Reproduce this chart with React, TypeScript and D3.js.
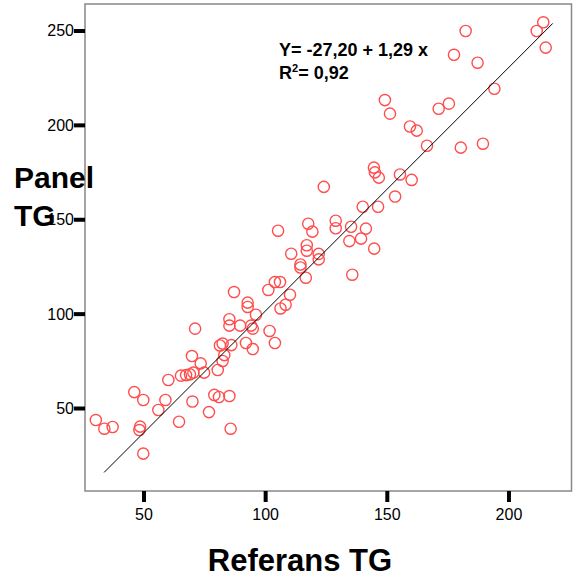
import React from 'react';
import * as d3 from 'd3';

// Referans TG (x) vs Panel TG (y)
const referansTG = [
  30.2, 33.7, 37.1, 46.0, 49.7, 48.4, 48.1, 49.7, 55.9, 58.8,
  60.0, 64.4, 65.2, 67.3, 68.9, 70.3, 69.9, 76.7, 78.9, 80.8,
  85.1, 85.6, 69.7, 73.3, 74.7, 80.3, 82.3, 83.0, 81.2, 82.3,
  85.9, 91.9, 94.7, 103.8, 71.0, 85.1, 85.1, 89.5, 94.0, 94.7,
  101.6, 87.0, 92.6, 92.6, 96.0, 101.1, 103.8, 105.9, 110.0, 108.2,
  106.1, 105.1, 110.5, 114.3, 114.3, 116.5, 116.9, 116.9, 121.8, 121.8,
  117.5, 119.2, 123.9, 128.8, 128.8, 135.1, 141.2, 134.4, 139.2, 144.6,
  135.6, 139.9, 146.2, 153.2, 144.5, 144.9, 146.5, 155.2, 160.0, 149.0,
  151.1, 159.3, 162.1, 166.3, 171.1, 175.3, 180.2, 189.3, 177.4, 182.2,
  187.1, 194.0, 211.4, 214.1, 215.1,
];
const panelTG = [
  43.9, 39.3, 40.2, 58.7, 54.5, 40.4, 38.6, 26.1, 49.2, 54.5,
  65.1, 43.0, 67.4, 67.7, 68.1, 69.0, 53.7, 48.1, 57.2, 56.1,
  56.6, 39.3, 77.8, 73.9, 69.0, 70.4, 75.2, 78.3, 83.4, 84.4,
  83.6, 84.7, 81.5, 84.7, 92.3, 97.3, 93.9, 93.9, 93.9, 92.3,
  91.1, 111.7, 106.1, 103.8, 99.7, 112.8, 117.0, 117.0, 110.3, 105.0,
  103.0, 144.2, 132.0, 126.3, 124.7, 119.3, 136.5, 133.6, 131.9, 129.0,
  147.9, 143.7, 167.4, 149.5, 145.5, 146.3, 145.3, 138.7, 140.0, 134.7,
  120.9, 156.9, 156.9, 162.3, 177.6, 175.1, 172.3, 174.0, 171.1, 213.4,
  206.2, 199.4, 197.2, 189.2, 208.8, 211.5, 188.2, 190.3, 237.4, 250.0,
  233.2, 219.4, 250.0, 254.6, 241.2,
];

const xTicks = [50, 100, 150, 200];
const yTicks = [50, 100, 150, 200, 250];

// fit line: Y = -27,20 + 1,29 x
const intercept = -27.2;
const slope = 1.29;
const fitRange = [33.6, 218];

const W = 576;
const H = 581;
const left = 85, right = 571.5, top = 4, bottom = 491;

export default function App() {
  const x = d3.scaleLinear().domain([25.75, 225.7]).range([left, right]);
  const y = d3.scaleLinear().domain([6.3, 264.3]).range([bottom, top]);
  const font = 'Arial, "Liberation Sans", Helvetica, sans-serif';

  const line = d3.line<number>()
    .x(d => x(d))
    .y(d => y(intercept + slope * d));

  return (
    <svg width={W} height={H} style={{ position: 'absolute', left: 0, top: 0, background: '#fff' }}
      fontFamily={font}>
      <rect x={left} y={top} width={right - left} height={bottom - top}
        fill="#fff" stroke="#888" strokeWidth={1.5} />

      {yTicks.map(t => (
        <g key={'y' + t}>
          <line x1={left - 11} x2={left} y1={y(t)} y2={y(t)} stroke="#000" strokeWidth={4} />
          <text x={left - 11} y={y(t) + 5.5} textAnchor="end" fontSize={16}>{t}</text>
        </g>
      ))}
      {xTicks.map(t => (
        <g key={'x' + t}>
          <line x1={x(t)} x2={x(t)} y1={bottom} y2={bottom + 11} stroke="#000" strokeWidth={4} />
          <text x={x(t)} y={520} textAnchor="middle" fontSize={16}>{t}</text>
        </g>
      ))}

      {referansTG.map((v, i) => (
        <circle key={i} cx={x(v)} cy={y(panelTG[i])} r={5.6}
          fill="none" stroke="#ff4d4d" strokeWidth={1.4} />
      ))}

      <path d={line(fitRange) || ''} fill="none" stroke="#000" strokeWidth={1} />

      <text x={279} y={56} fontSize={18} fontWeight="bold">Y= -27,20 + 1,29 x</text>
      <text x={279} y={79} fontSize={18} fontWeight="bold">
        R<tspan dy={-7} fontSize={11}>2</tspan><tspan dy={7}>= 0,92</tspan>
      </text>

      <text x={14} y={188} fontSize={30} fontWeight="bold">Panel</text>
      <text x={14} y={226} fontSize={30} fontWeight="bold">TG</text>

      <text x={300} y={571} textAnchor="middle" fontSize={31} fontWeight="bold">Referans TG</text>
    </svg>
  );
}
